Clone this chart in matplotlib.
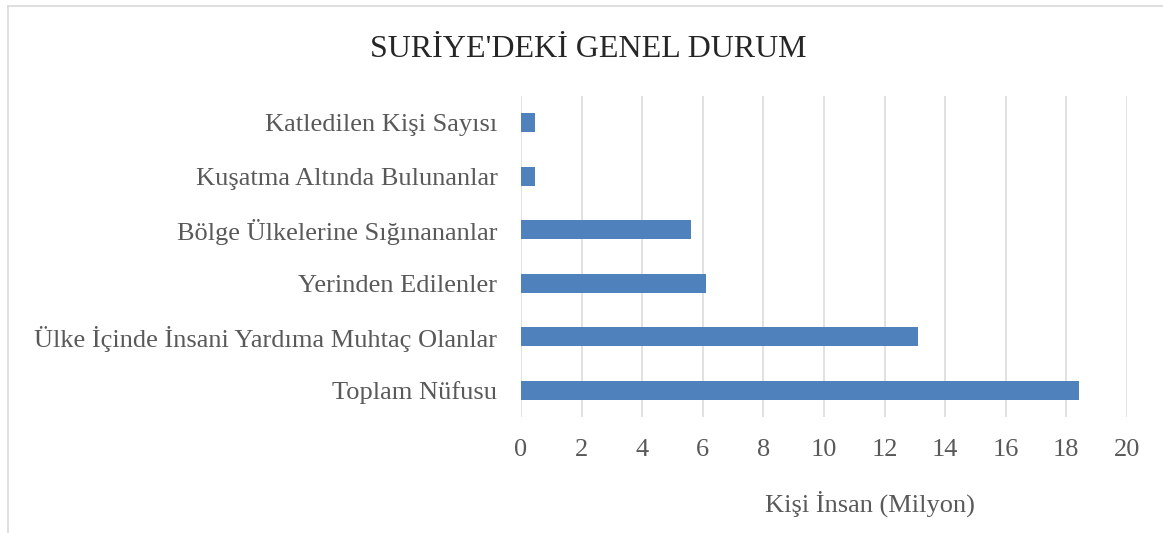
"""Horizontal bar chart: SURİYE'DEKİ GENEL DURUM."""
import matplotlib

matplotlib.use("Agg")
import matplotlib.pyplot as plt  # noqa: E402
from matplotlib.lines import Line2D  # noqa: E402

categories = [
    "Toplam Nüfusu",
    "Ülke İçinde İnsani Yardıma Muhtaç Olanlar",
    "Yerinden Edilenler",
    "Bölge Ülkelerine Sığınananlar",
    "Kuşatma Altında Bulunanlar",
    "Katledilen Kişi Sayısı",
]
values = [18.4, 13.1, 6.1, 5.6, 0.47, 0.47]
xticks = [0, 2, 4, 6, 8, 10, 12, 14, 16, 18, 20]

BAR_COLOR = "#4F81BD"
GRID_COLOR = "#D9D9D9"
TEXT_COLOR = "#595959"
W, H = 1163, 533
FS = 19

plt.rcParams["font.family"] = ["Liberation Serif", "DejaVu Serif"]

fig = plt.figure(figsize=(W / 100, H / 100), dpi=100)
ax = fig.add_axes([521 / W, 1 - 417 / H, (1127 - 521) / W, (417 - 96) / H])

ypos = range(len(categories))
ax.barh(ypos, values, height=0.35, color=BAR_COLOR, zorder=3)
ax.set_xlim(0, 20)
ax.set_ylim(-0.5, len(categories) - 0.5)
ax.set_xticks(xticks)
ax.set_yticks(list(ypos))
ax.set_yticklabels(categories)
ax.grid(axis="x", color=GRID_COLOR, linewidth=1.1, zorder=0)
ax.tick_params(axis="y", length=0, pad=17, labelsize=FS, labelcolor=TEXT_COLOR)
ax.tick_params(axis="x", length=0, pad=16, labelsize=FS, labelcolor=TEXT_COLOR)
for s in ax.spines.values():
    s.set_visible(False)

fig.text(588 / W, 1 - 57 / H, "SURİYE'DEKİ GENEL DURUM", ha="center", va="baseline",
         fontsize=23, color="#262626")
fig.text(870 / W, 1 - 512 / H, "Kişi İnsan (Milyon)", ha="center", va="baseline",
         fontsize=FS, color=TEXT_COLOR)

# thin chart-area border (left and top edges only visible)
fig.add_artist(Line2D([8 / W, 8 / W], [0, 1 - 6 / H], transform=fig.transFigure,
                      color=GRID_COLOR, linewidth=1.2))
fig.add_artist(Line2D([8 / W, 1], [1 - 6 / H, 1 - 6 / H], transform=fig.transFigure,
                      color=GRID_COLOR, linewidth=1.2))

fig.savefig("out.png", dpi=100)
plt.close(fig)
